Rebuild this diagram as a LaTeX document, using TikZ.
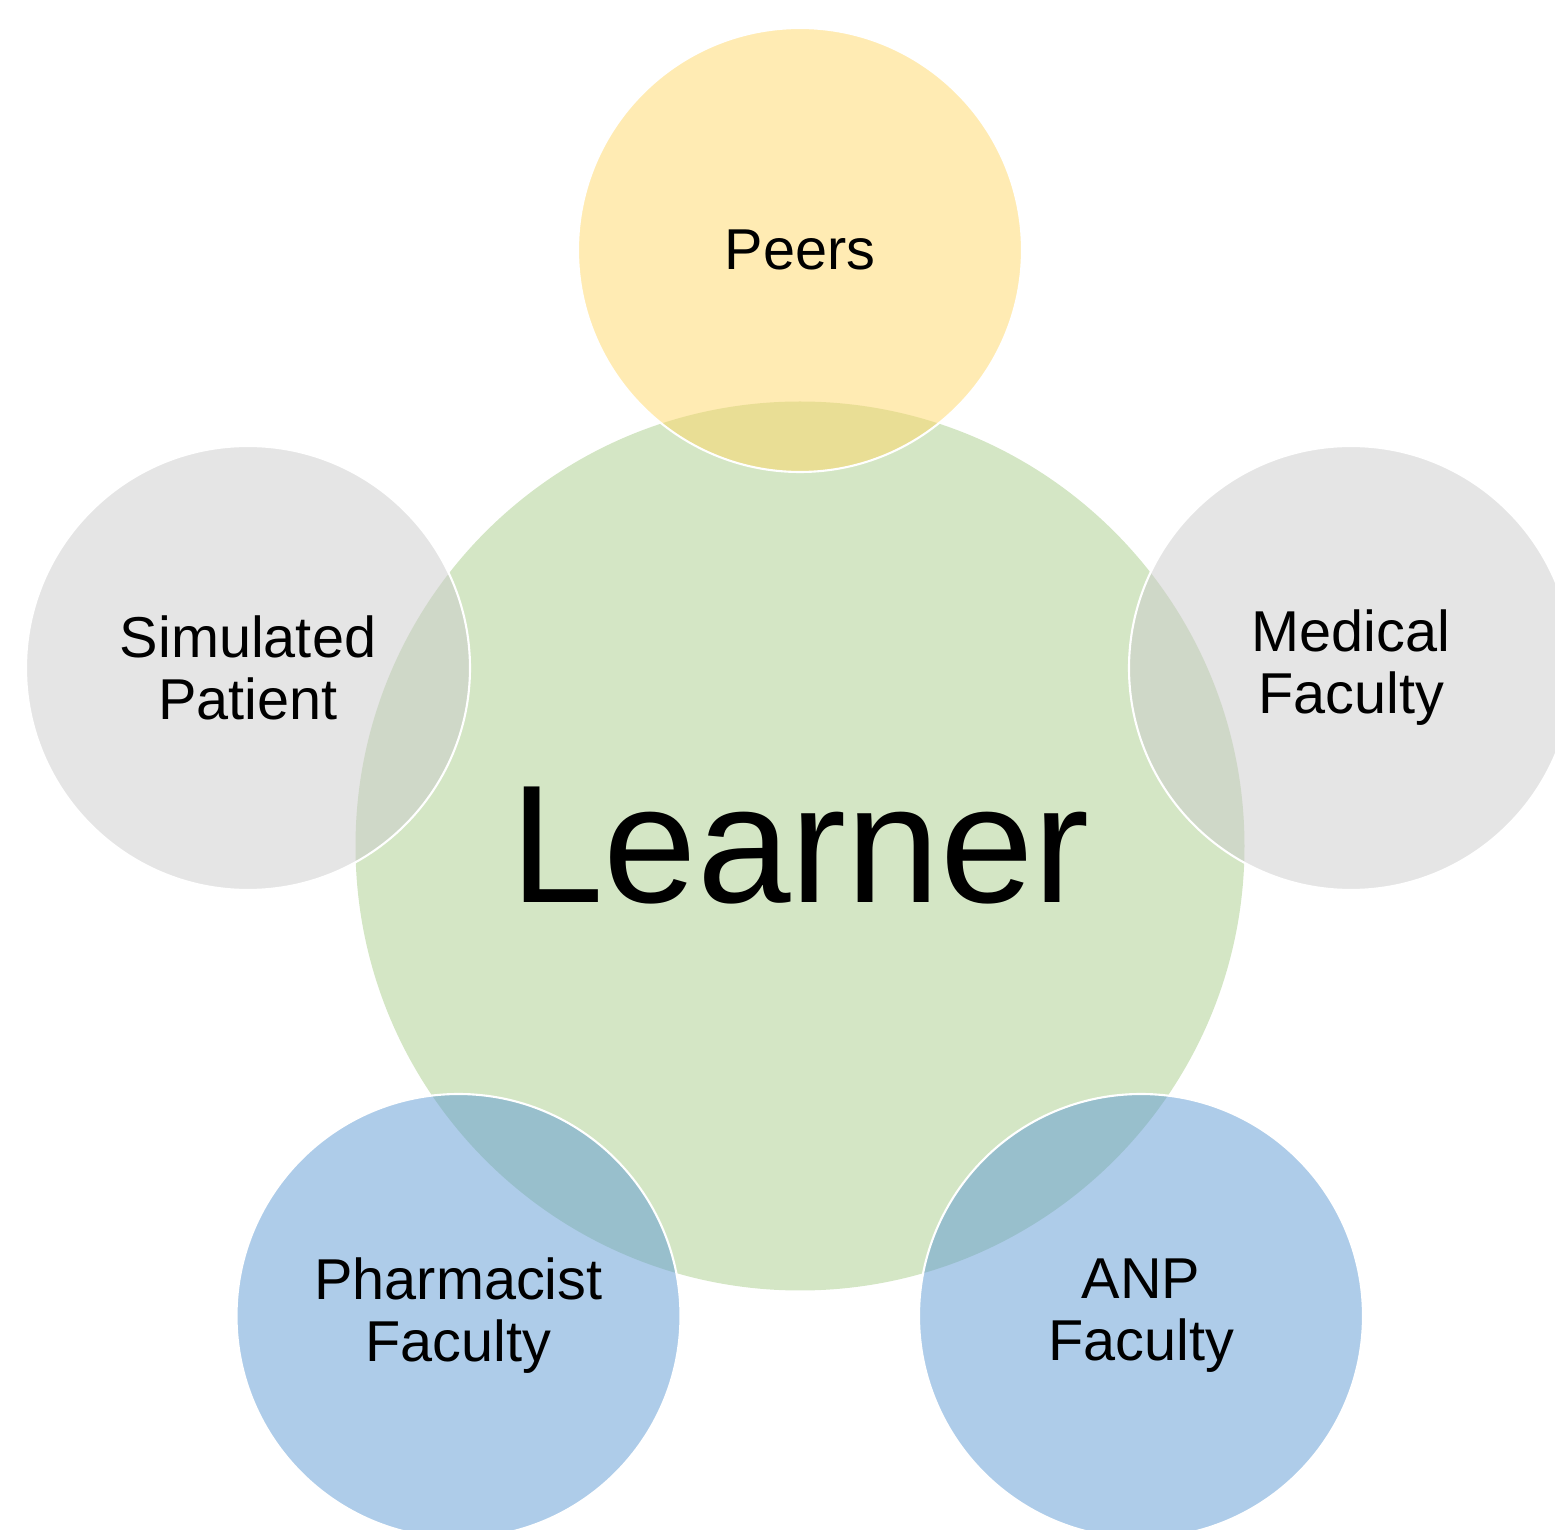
\documentclass[tikz,border=0pt]{standalone}
\usepackage{fontspec}
\setmainfont{Liberation Sans}
\definecolor{learnergreen}{HTML}{D4E6C5}
\definecolor{peeryellow}{HTML}{FFD767}
\definecolor{simgray}{HTML}{CBCBCB}
\definecolor{facblue}{HTML}{5D99D3}

\begin{document}
\begin{tikzpicture}[learner/.style={circle,fill=learnergreen,minimum size=8.89cm,inner sep=0pt,font=\fontsize{47.8}{50}\selectfont},role/.style={circle,draw=white,line width=0.6pt,fill opacity=0.5,text opacity=1,minimum size=4.44cm,inner sep=0pt,align=center,font=\fontsize{16.4}{17.6}\selectfont}]
\useasboundingbox (0,0) rectangle (15.55,15.29);
\clip (0,0) rectangle (15.55,15.29);
\node[learner] (learner) at (8.00,6.83) {Learner};
\foreach \name/\pos/\col/\txt in {peers/{8.00,12.79}/peeryellow/Peers,simpat/{2.48,8.61}/simgray/{Simulated\\Patient},medfac/{13.51,8.61}/simgray/{Medical\\Faculty},pharmfac/{4.585,2.13}/facblue/{Pharmacist\\Faculty},anpfac/{11.41,2.13}/facblue/{ANP\\Faculty}} {
   \node[role, fill=\col] (\name) at (\pos) {\txt};
}
\end{tikzpicture}
\end{document}
